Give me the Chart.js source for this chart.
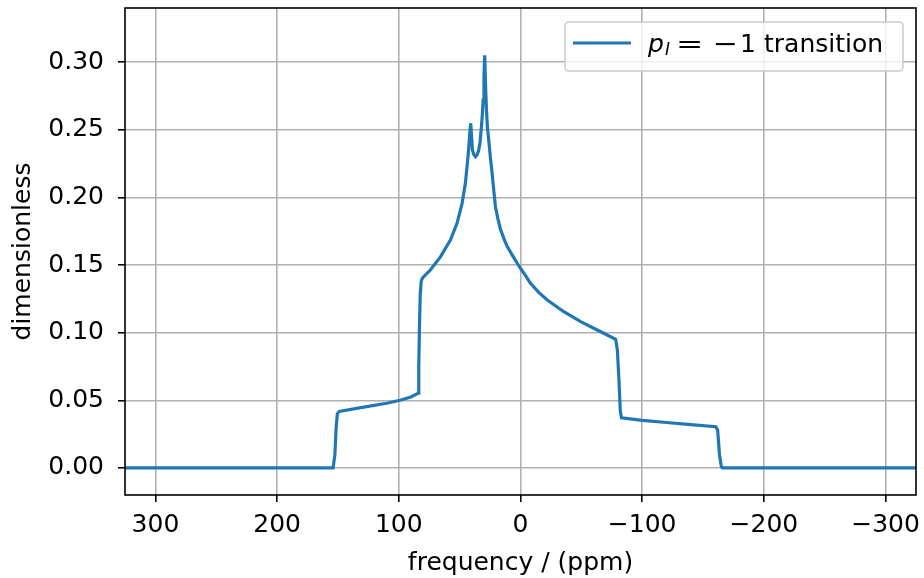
<!DOCTYPE html>
<html>
<head>
<meta charset="utf-8">
<script src="https://cdn.jsdelivr.net/npm/chart.js@4.4.1/dist/chart.umd.min.js"></script>
<style>
    html, body { margin: 0; padding: 0; background: #fff; }
    #wrap { width: 924px; height: 578px; }
</style>
</head>
<body>
<div id="wrap"><canvas id="myChart" width="924" height="578"></canvas></div>
<script>
// spectrum: frequency (ppm) and intensity
const freqPpm = [
    325, 154, 152.5, 151.5, 150.5, 149, 130, 110, 99, 90, 84.2, 83.6, 83.0, 82.4, 81.6, 80.5,
    74.1, 65.8, 57.6, 52.1, 48, 45.3, 43.4, 42.5, 41.7, 40.9, 40.2, 39.5, 38.3, 37, 35.6, 34.3,
    33.2, 32.1, 31.3, 30.7, 30, 29.4, 28.8, 28, 27.2, 26.1, 24.7, 23.3, 22, 20.6, 18.5, 16.5, 13.5, 10.9,
    6.5, 2.7, 0, -4, -8.2, -15, -22, -35.6, -49.4, -63.1, -78.2, -79.6, -80.9, -82, -83,
    -100, -120, -140, -160.5, -162, -163.5, -165, -166, -325
];
const intensity = [
    0, 0, 0.01, 0.03, 0.04, 0.0418, 0.0448, 0.0478, 0.0500, 0.0525, 0.0552, 0.075, 0.105, 0.128, 0.138, 0.1405,
    0.1463, 0.156, 0.1685, 0.181, 0.1956, 0.2104, 0.2276, 0.237, 0.2474, 0.2548, 0.245, 0.235, 0.2315, 0.230, 0.2315, 0.235,
    0.241, 0.2523, 0.262, 0.272, 0.29, 0.305, 0.285, 0.265, 0.252, 0.2424, 0.229, 0.2178, 0.2055, 0.1931, 0.184, 0.1765, 0.1692, 0.1636,
    0.157, 0.1513, 0.1476, 0.1423, 0.1365, 0.1298, 0.1242, 0.1155, 0.1081, 0.1020, 0.0951, 0.0872, 0.065, 0.042, 0.037,
    0.0352, 0.0336, 0.032, 0.0305, 0.028, 0.01, 0.001, 0, 0
];
const xTicks = [300, 200, 100, 0, -100, -200, -300];
const yTicks = [0, 0.05, 0.10, 0.15, 0.20, 0.25, 0.30];
const seriesLabel = 'p_I = -1 transition';

const FONT = 'DejaVu Sans';
const FS = 25;
const lineColor = '#1f77b4';
const gridColor = '#b0b0b0';

const points = freqPpm.map((f, i) => ({ x: f, y: intensity[i] }));

function minusSign(v) {
    return v < 0 ? '\u2212' + Math.abs(v) : String(v);
}

// no extra room for overhanging edge labels
function noEdgePadding(axis) {
    axis.paddingLeft = 0;
    axis.paddingRight = 0;
    axis.paddingTop = 0;
    axis.paddingBottom = 0;
}

// black frame round the plot area, like matplotlib spines
const framePlugin = {
    id: 'frame',
    afterDatasetsDraw(chart) {
        const { ctx, chartArea: a } = chart;
        ctx.save();
        ctx.strokeStyle = '#000';
        ctx.lineWidth = 1.6;
        ctx.strokeRect(a.left, a.top, a.right - a.left, a.bottom - a.top);
        ctx.restore();
    }
};

// legend with italic p and subscript I (drawn by hand, chart.js has no mathtext)
const legendPlugin = {
    id: 'mathLegend',
    afterDraw(chart) {
        const ctx = chart.ctx;
        const bx = 565, by = 22, bw = 338, bh = 49, r = 4;
        ctx.save();
        ctx.beginPath();
        ctx.moveTo(bx + r, by);
        ctx.arcTo(bx + bw, by, bx + bw, by + bh, r);
        ctx.arcTo(bx + bw, by + bh, bx, by + bh, r);
        ctx.arcTo(bx, by + bh, bx, by, r);
        ctx.arcTo(bx, by, bx + bw, by, r);
        ctx.closePath();
        ctx.fillStyle = 'rgba(255,255,255,0.8)';
        ctx.fill();
        ctx.strokeStyle = '#cccccc';
        ctx.lineWidth = 1.6;
        ctx.stroke();

        ctx.strokeStyle = lineColor;
        ctx.lineWidth = 3.2;
        ctx.beginPath();
        ctx.moveTo(573, 43);
        ctx.lineTo(631, 43);
        ctx.stroke();

        const base = 52;
        ctx.fillStyle = '#000';
        ctx.textBaseline = 'alphabetic';
        ctx.textAlign = 'left';
        ctx.font = 'italic ' + FS + 'px "' + FONT + '"';
        ctx.fillText('p', 648, base);
        ctx.font = 'italic 17px "' + FONT + '"';
        ctx.fillText('I', 665, base + 3);
        ctx.font = FS + 'px "' + FONT + '"';
        // math symbols are a bit wider in mathtext
        ctx.save();
        ctx.translate(676, base);
        ctx.scale(1.3, 1);
        ctx.fillText('=', 0, 0);
        ctx.restore();
        ctx.save();
        ctx.translate(713, base);
        ctx.scale(1.2, 1);
        ctx.fillText('\u2212', 0, 0);
        ctx.restore();
        ctx.fillText('1', 740, base);
        ctx.fillText('transition', 764, base);
        ctx.restore();
    }
};

const ctx = document.getElementById('myChart').getContext('2d');
const chart = new Chart(ctx, {
    type: 'line',
    data: {
        datasets: [{
            label: seriesLabel,
            data: points,
            borderColor: lineColor,
            borderWidth: 3.2,
            pointRadius: 0,
            fill: false,
            tension: 0
        }]
    },
    options: {
        responsive: false,
        animation: false,
        events: [],
        layout: { padding: { top: 8, right: 8, left: 0, bottom: 0 } },
        plugins: {
            legend: { display: false },
            tooltip: { enabled: false }
        },
        scales: {
            x: {
                type: 'linear',
                reverse: true,
                min: -325,
                max: 325,
                afterBuildTicks: axis => { axis.ticks = xTicks.map(v => ({ value: v })); },
                afterFit: axis => { axis.height = 83; noEdgePadding(axis); },
                border: { display: false },
                grid: { color: gridColor, lineWidth: 1.6, tickColor: '#000', tickLength: 7, tickWidth: 1.6 },
                ticks: {
                    autoSkip: false,
                    maxRotation: 0,
                    padding: 8,
                    color: '#000',
                    font: { family: FONT, size: FS },
                    callback: v => minusSign(v)
                },
                title: {
                    display: true,
                    text: 'frequency / (ppm)',
                    color: '#000',
                    font: { family: FONT, size: FS },
                    padding: { top: 0, bottom: 0 }
                }
            },
            y: {
                type: 'linear',
                min: -0.02,
                max: 0.34,
                afterBuildTicks: axis => { axis.ticks = yTicks.map(v => ({ value: v })); },
                afterFit: axis => { axis.width = 125; noEdgePadding(axis); },
                border: { display: false },
                grid: { color: gridColor, lineWidth: 1.6, tickColor: '#000', tickLength: 7, tickWidth: 1.6 },
                ticks: {
                    autoSkip: false,
                    padding: 14,
                    color: '#000',
                    font: { family: FONT, size: FS },
                    callback: v => v.toFixed(2)
                },
                title: {
                    display: true,
                    text: 'dimensionless',
                    color: '#000',
                    font: { family: FONT, size: FS },
                    padding: { top: 8, bottom: 0 }
                }
            }
        }
    },
    plugins: [framePlugin, legendPlugin]
});
</script>
</body>
</html>
